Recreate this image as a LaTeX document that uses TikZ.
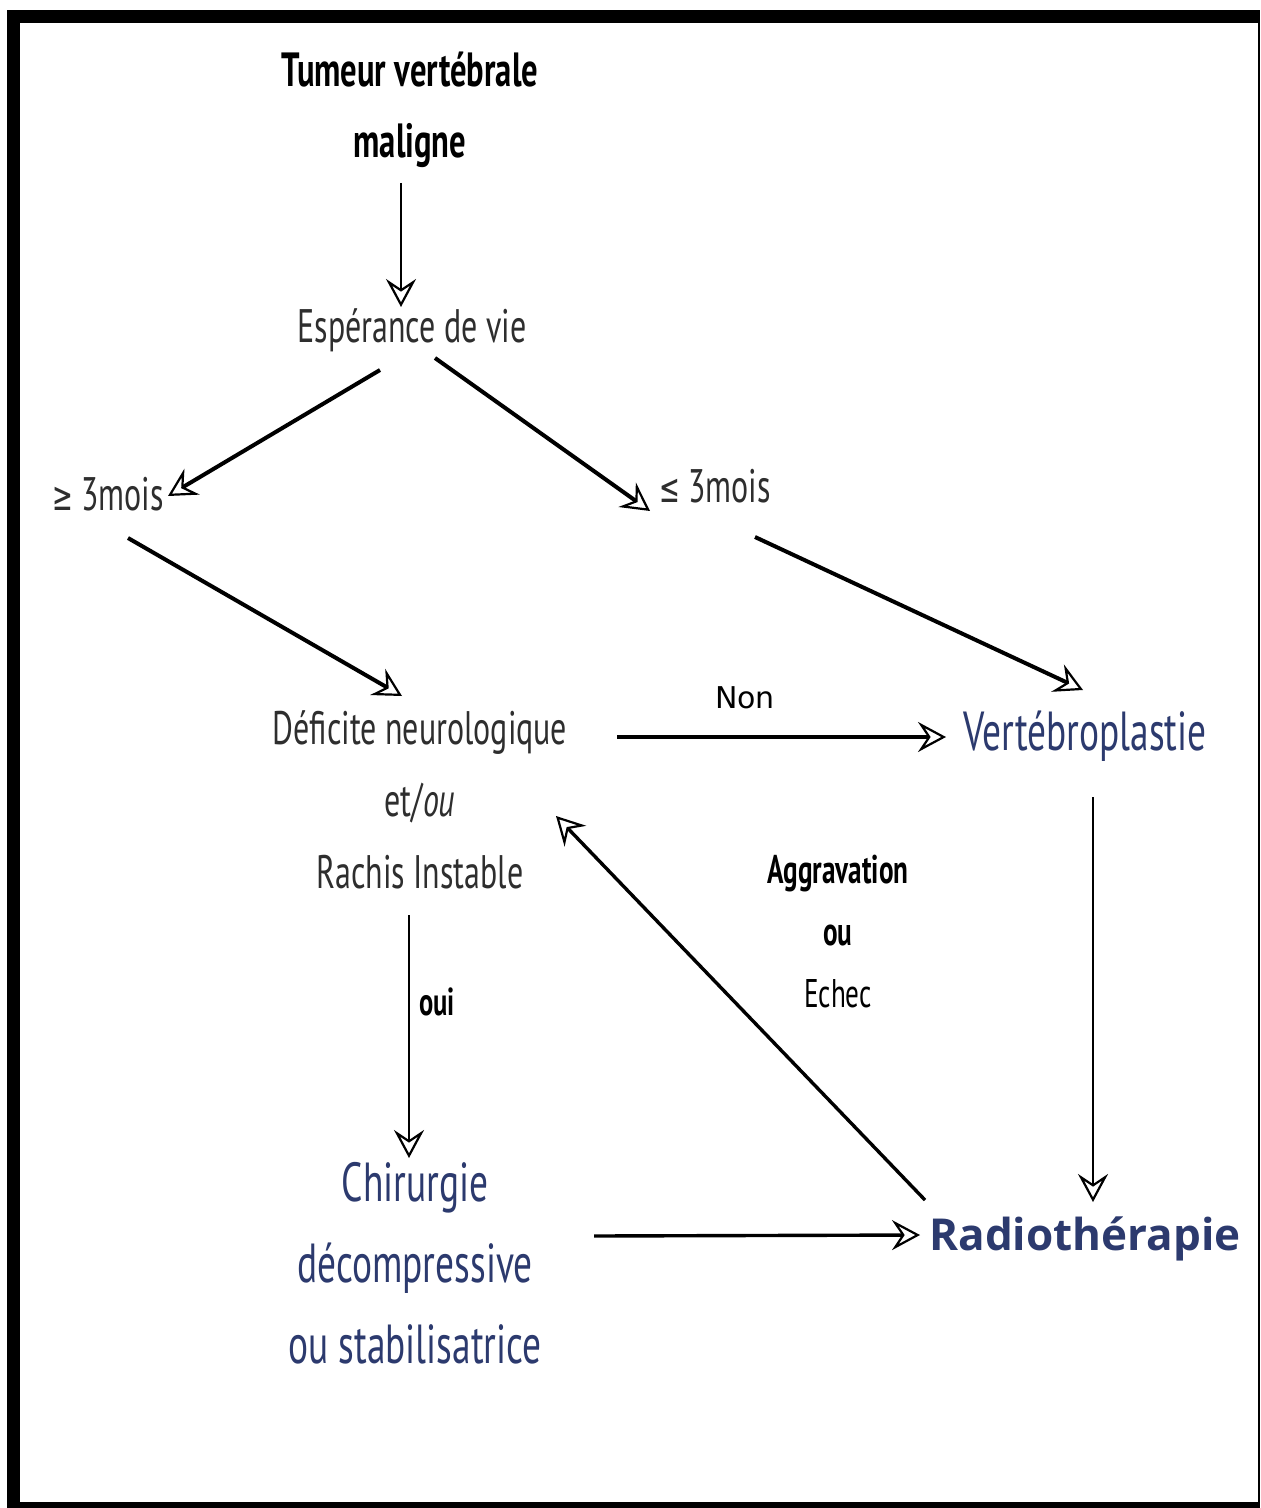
\documentclass[tikz,border=0pt]{standalone}
\usepackage{fontspec}
\setmainfont{PT Sans}[FakeStretch=0.68]
\newfontfamily\nonfont{DejaVu Sans}
\newfontfamily\symfont{DejaVu Sans}[FakeStretch=0.62]
\newfontfamily\radiofont{Open Sans}
\usetikzlibrary{arrows.meta}

\definecolor{navy}{HTML}{2C3A6E}
\definecolor{ink}{HTML}{2E2E2E}

\begin{document}
\begin{tikzpicture}[x=0.5pt, y=-0.5pt,
    arr/.style={-{Stealth[open, length=14pt, width=15pt, inset=5pt, line width=1.1pt]}},
    bold/.style={anchor=base, align=center, text=black, font=\fontsize{24}{35.5}\selectfont\bfseries},
    plain/.style={anchor=base, align=center, text=ink, font=\fontsize{23.5}{36}\selectfont},
    act/.style={anchor=base, align=center, text=navy, font=\fontsize{27.5}{40.5}\selectfont}]

  % page and frame
  \useasboundingbox (0,0) rectangle (1261,1508);
  \fill[white] (0,0) rectangle (1261,1508);
  \fill[black] (7,10) rectangle (1259.5,1508);
  \fill[white] (20,23) rectangle (1258,1502);

  % Decision nodes (base = last line)
  \node[bold] (tumeur) at (410,158) {Tumeur vertébrale\\maligne};
  \node[plain] (esp) at (412,343) {Espérance de vie};
  \node[plain] (ge) at (108,510) {{\symfont\fontsize{20}{24}\selectfont ≥} 3mois};
  \node[plain] (le) at (715,502) {{\symfont\fontsize{20}{24}\selectfont ≤} 3mois};
  \node[plain] (deficit) at (420,888) {Déficite neurologique\\et/\textit{ou}\\Rachis Instable};

  % Treatments
  \node[act] (vert) at (1085,750) {Vertébroplastie};
  \node[act] (chir) at (415,1363) {Chirurgie\\décompressive\\ou stabilisatrice};
  \node[anchor=base, text=navy, font=\radiofont\fontsize{22}{26}\selectfont\bfseries] (radio) at (1085,1250) {Radiothérapie};

  % Edge labels
  \node[anchor=base, font=\nonfont\fontsize{15}{18}\selectfont] (non) at (745,708) {Non};
  \node[bold, font=\fontsize{19.5}{31}\selectfont\bfseries] (oui) at (437,1015) {oui};
  \node[bold, font=\fontsize{20}{31}\selectfont\bfseries] (aggr) at (838,1007) {Aggravation\\ou\\\mdseries Echec};

  % Arrows
  \draw[arr, line width=1.2pt] ([shift={(-9,25)}]tumeur.base) -- ([shift={(-11,-36)}]esp.base);
  \draw[arr, line width=2pt] ([shift={(-32,27)}]esp.base) -- ([shift={(60,-14)}]ge.base);
  \draw[arr, line width=2pt] ([shift={(23,15)}]esp.base) -- ([shift={(-65,9)}]le.base);
  \draw[arr, line width=2pt] ([shift={(20,28)}]ge.base) -- ([shift={(-18,-192)}]deficit.base);
  \draw[arr, line width=2pt] ([shift={(40,35)}]le.base) -- ([shift={(-2,-60)}]vert.base);
  \draw[arr, line width=2pt] ([shift={(197,-151)}]deficit.base) -- ([shift={(-139,-13)}]vert.base);
  \draw[arr, line width=1.2pt] ([shift={(8,47)}]vert.base) -- ([shift={(8,-48)}]radio.base);
  \draw[arr, line width=1.7pt] ([shift={(-160,-50)}]radio.base) -- ([shift={(136,-72)}]deficit.base);
  \draw[arr, line width=1.2pt] ([shift={(-11,27)}]deficit.base) -- ([shift={(-6,-205)}]chir.base);
  \draw[arr, line width=1.7pt] ([shift={(179,-127)}]chir.base) -- ([shift={(-165,-15)}]radio.base);
\end{tikzpicture}
\end{document}
